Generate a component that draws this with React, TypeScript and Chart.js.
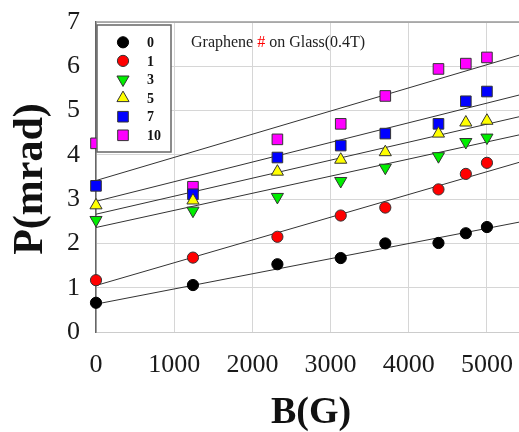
import React, { useEffect, useRef } from 'react';
import { Chart, registerables } from 'chart.js';

Chart.register(...registerables);

// ---- data ----
const fields = [0, 1240, 2320, 3130, 3700, 4380, 4730, 5000];
const layerLabels = ['0', '1', '3', '5', '7', '10'];
const p0 = [0.66, 1.06, 1.53, 1.67, 2.0, 2.01, 2.23, 2.37];
const p1 = [1.17, 1.68, 2.15, 2.63, 2.81, 3.22, 3.57, 3.82];
const p3 = [2.53, 2.74, 3.05, 3.41, 3.71, 3.97, 4.29, 4.39];
const p5 = [2.86, 2.97, 3.62, 3.89, 4.06, 4.48, 4.73, 4.77];
const p7 = [3.30, 3.11, 3.94, 4.21, 4.48, 4.70, 5.21, 5.43];
const p10 = [4.26, 3.28, 4.35, 4.70, 5.33, 5.94, 6.06, 6.20];
const seriesValues = [p0, p1, p3, p5, p7, p10];
const fitStart = [0.63, 1.05, 2.36, 2.66, 2.95, 3.42];
const fitEnd = [2.48, 3.83, 4.45, 4.86, 5.35, 6.25];
const fitRange = [0, 5410];
const xTickValues = [0, 1000, 2000, 3000, 4000, 5000];
const yTickValues = [0, 1, 2, 3, 4, 5, 6, 7];

// ---- styles ----
const fills = ['#000000', '#ff0000', '#00ee00', '#ffff00', '#0000ff', '#ff00ff'];
const strokes = ['#000000', '#333333', '#333333', '#333333', '#333333', '#333333'];
const shapes = ['circle', 'circle', 'triangle', 'triangle', 'rect', 'rect'];
const rotations = [0, 0, 180, 0, 0, 0];
const radii = [5.6, 5.6, 7, 7, 7.5, 7.5];
const SERIF = "'Liberation Serif', 'Times New Roman', serif";

function drawMarker(ctx: CanvasRenderingContext2D, i: number, x: number, y: number) {
  const r = radii[i];
  ctx.save();
  ctx.fillStyle = fills[i];
  ctx.strokeStyle = strokes[i];
  ctx.lineWidth = 1;
  ctx.beginPath();
  if (shapes[i] === 'circle') {
    ctx.arc(x, y, r, 0, Math.PI * 2);
  } else if (shapes[i] === 'triangle') {
    let rad = (rotations[i] * Math.PI) / 180;
    ctx.moveTo(x + Math.sin(rad) * r, y - Math.cos(rad) * r);
    rad += (2 * Math.PI) / 3;
    ctx.lineTo(x + Math.sin(rad) * r, y - Math.cos(rad) * r);
    rad += (2 * Math.PI) / 3;
    ctx.lineTo(x + Math.sin(rad) * r, y - Math.cos(rad) * r);
    ctx.closePath();
  } else {
    const s = Math.SQRT1_2 * r;
    ctx.rect(x - s, y - s, 2 * s, 2 * s);
  }
  ctx.fill();
  ctx.stroke();
  ctx.restore();
}

const decorPlugin = {
  id: 'decor',
  afterDraw(chart: any) {
    const ctx: CanvasRenderingContext2D = chart.ctx;
    const { left, top, right } = chart.chartArea;
    ctx.save();
    // top border
    ctx.strokeStyle = '#999999';
    ctx.lineWidth = 1.5;
    ctx.beginPath();
    ctx.moveTo(left, top);
    ctx.lineTo(right, top);
    ctx.stroke();

    // inside title
    ctx.textBaseline = 'middle';
    ctx.textAlign = 'left';
    ctx.font = `16px ${SERIF}`;
    let tx = 191;
    const ty = 43;
    const parts: [string, string][] = [['Graphene ', '#222222'], ['#', '#ff0000'], [' on Glass(0.4T)', '#222222']];
    for (const [t, c] of parts) {
      ctx.fillStyle = c;
      ctx.fillText(t, tx, ty);
      tx += ctx.measureText(t).width;
    }

    // legend box
    const bx = 97, by = 25, bw = 74, bh = 127;
    ctx.fillStyle = '#ffffff';
    ctx.fillRect(bx, by, bw, bh);
    ctx.strokeStyle = '#666666';
    ctx.lineWidth = 1.5;
    ctx.strokeRect(bx, by, bw, bh);
    ctx.font = `bold 14px ${SERIF}`;
    layerLabels.forEach((lab, i) => {
      const y = 42.3 + i * 18.6;
      drawMarker(ctx, i, 123, y);
      ctx.fillStyle = '#111111';
      ctx.fillText(lab, 147, y + 1);
    });

    // axis titles
    ctx.fillStyle = '#111111';
    ctx.font = `bold 42px ${SERIF}`;
    ctx.textAlign = 'center';
    ctx.save();
    ctx.translate(31, 179);
    ctx.rotate(-Math.PI / 2);
    ctx.fillText('P(mrad)', 0, 0);
    ctx.restore();
    ctx.font = `bold 38px ${SERIF}`;
    ctx.fillText('B(G)', 311, 413);
    ctx.restore();
  },
};

export default function App() {
  const ref = useRef<HTMLCanvasElement | null>(null);
  useEffect(() => {
    if (!ref.current) return;
    const scatterSets = seriesValues.map((vals, i) => ({
      label: layerLabels[i],
      data: fields.map((x, j) => ({ x, y: vals[j] })),
      showLine: false,
      pointStyle: shapes[i],
      rotation: rotations[i],
      pointRadius: radii[i],
      pointHoverRadius: radii[i],
      pointBackgroundColor: fills[i],
      pointBorderColor: strokes[i],
      pointBorderWidth: 1,
      order: 0,
      clip: false,
    }));
    const fitSets = fitStart.map((s, i) => ({
      label: 'fit ' + layerLabels[i],
      data: [
        { x: fitRange[0], y: s },
        { x: fitRange[1], y: fitEnd[i] },
      ],
      showLine: true,
      borderColor: '#333333',
      borderWidth: 1,
      pointRadius: 0,
      order: 1,
    }));
    const chart = new Chart(ref.current, {
      type: 'scatter',
      data: { datasets: [...scatterSets, ...fitSets] as any },
      plugins: [decorPlugin],
      options: {
        responsive: false,
        animation: false,
        devicePixelRatio: 1,
        layout: { autoPadding: false, padding: { top: 22, right: 0, left: 0, bottom: 0 } },
        plugins: { legend: { display: false }, tooltip: { enabled: false } },
        scales: {
          x: {
            type: 'linear',
            min: fitRange[0],
            max: fitRange[1],
            afterBuildTicks: (s: any) => {
              s.ticks = xTickValues.map((v) => ({ value: v }));
            },
            afterFit: (s: any) => {
              s.height = 100;
              s.paddingLeft = 0;
              s.paddingRight = 0;
            },
            ticks: {
              autoSkip: false,
              font: { family: SERIF, size: 26 },
              color: '#1a1a1a',
              padding: 18,
              maxRotation: 0,
              callback: (v: any) => String(v),
            },
            grid: { color: '#d6d6d6', lineWidth: 1, drawTicks: false },
            border: { color: '#cccccc', width: 1 },
          },
          y: {
            type: 'linear',
            min: yTickValues[0],
            max: yTickValues[yTickValues.length - 1],
            afterBuildTicks: (s: any) => {
              s.ticks = yTickValues.map((v) => ({ value: v }));
            },
            afterFit: (s: any) => {
              s.width = 96;
              s.paddingTop = 0;
              s.paddingBottom = 0;
            },
            ticks: {
              autoSkip: false,
              font: { family: SERIF, size: 26 },
              color: '#1a1a1a',
              padding: 16,
              callback: (v: any) => String(v),
            },
            grid: { color: '#d6d6d6', lineWidth: 1, drawTicks: false },
            border: { color: '#666666', width: 1.5 },
          },
        },
      } as any,
    });
    return () => chart.destroy();
  }, []);
  return (
    <div style={{ position: 'absolute', left: 0, top: 0, width: 519, height: 432, background: '#ffffff' }}>
      <canvas ref={ref} width={519} height={432} style={{ display: 'block' }} />
    </div>
  );
}
